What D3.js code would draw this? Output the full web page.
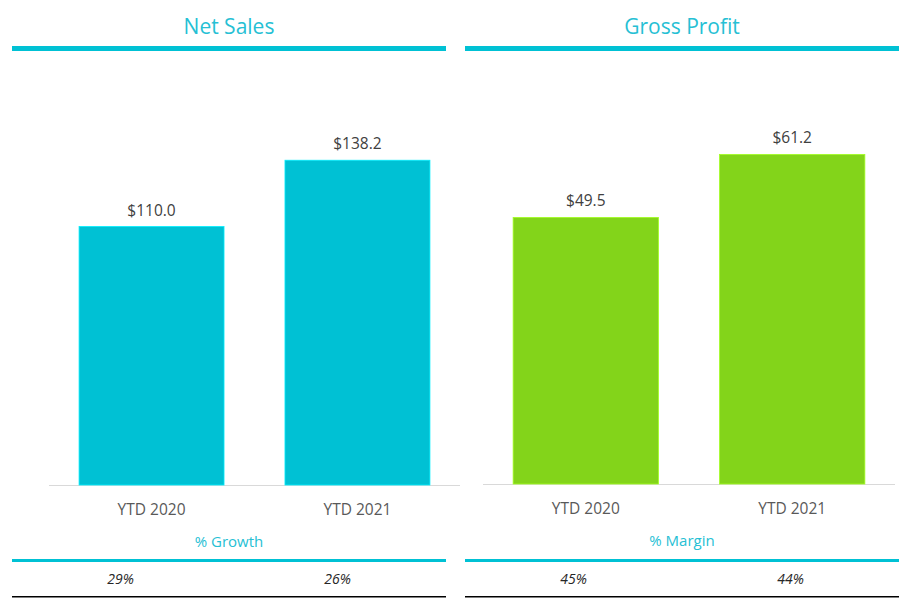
<!DOCTYPE html>
<html><head><meta charset="utf-8">
<script src="https://cdn.jsdelivr.net/npm/d3@7"></script>
<style>body{margin:0;background:#fff}svg{display:block}text{font-family:"Open Sans","Noto Sans",sans-serif}</style>
</head><body>
<svg id="c" width="901" height="600"></svg>
<script>
const categories = ["YTD 2020", "YTD 2021"];
const netSales = [110.0, 138.2];
const grossProfit = [49.5, 61.2];
const growthPct = ["29%", "26%"];
const marginPct = ["45%", "44%"];
const panelTitles = ["Net Sales", "Gross Profit"];
const subTitles = ["% Growth", "% Margin"];

const svg = d3.select("#c");
const teal = "#00c1d4", green = "#83d41a", titleCol = "#26c0d4";

const panels = [
  {title: panelTitles[0], sub: subTitles[0], vals: netSales, pct: growthPct, color: teal,
   x0: 12, x1: 446, cx: 229, base: 485, axMin: 49, axMax: 460, plotX0: 49, plotX1: 460, yMax: 160, yTop: 109},
  {title: panelTitles[1], sub: subTitles[1], vals: grossProfit, pct: marginPct, color: green,
   x0: 465, x1: 899, cx: 682, base: 484, axMin: 483, axMax: 895, plotX0: 483, plotX1: 895, yMax: 70, yTop: 107}
];

panels.forEach((p, i) => {
  const g = svg.append("g");
  g.append("text").attr("x", p.cx).attr("y", 34).attr("text-anchor", "middle")
    .attr("font-size", 21).attr("fill", titleCol).text(p.title);
  g.append("rect").attr("x", p.x0).attr("y", 46).attr("width", p.x1 - p.x0).attr("height", 5).attr("fill", teal);

  const x = d3.scaleBand().domain(categories).range([p.plotX0, p.plotX1]).paddingInner(0.296).paddingOuter(0.146);
  const y = d3.scaleLinear().domain([0, p.yMax]).range([p.base, p.yTop]);

  g.append("line").attr("x1", p.axMin).attr("x2", p.axMax).attr("y1", p.base + 0.5).attr("y2", p.base + 0.5)
    .attr("stroke", "#d9d9d9").attr("stroke-width", 1);

  g.selectAll("rect.bar").data(p.vals).join("rect").attr("class", "bar")
    .attr("x", (d, j) => x(categories[j])).attr("width", x.bandwidth())
    .attr("y", d => y(d)).attr("height", d => y(0) - y(d))
    .attr("fill", p.color).attr("stroke", d3.color(p.color).brighter(0.6)).attr("stroke-width", 0.8);

  g.selectAll("text.val").data(p.vals).join("text").attr("class", "val")
    .attr("x", (d, j) => x(categories[j]) + x.bandwidth() / 2).attr("y", d => y(d) - 11)
    .attr("text-anchor", "middle").attr("font-size", 15.5).attr("fill", "#404040")
    .text(d => "$" + d3.format(".1f")(d));

  const axis = d3.axisBottom(x).tickSize(0).tickPadding(0);
  const ax = g.append("g").attr("transform", `translate(0,${p.base})`).call(axis);
  ax.select(".domain").remove();
  ax.selectAll("text").attr("dy", null).attr("y", 30).attr("font-size", 15.5).attr("fill", "#595959")
    .attr("font-family", '"Open Sans","Noto Sans",sans-serif');

  g.append("text").attr("x", p.cx).attr("y", p.base + 62).attr("text-anchor", "middle")
    .attr("font-size", 15).attr("fill", titleCol).text(p.sub);
  g.append("rect").attr("x", p.x0).attr("y", 559).attr("width", p.x1 - p.x0).attr("height", 3).attr("fill", teal);

  const pctX = d3.scaleBand().domain(categories).range([p.x0, p.x1]);
  g.selectAll("text.pct").data(p.pct).join("text").attr("class", "pct")
    .attr("x", (d, j) => pctX(categories[j]) + pctX.bandwidth() / 2)
    .attr("y", 584).attr("text-anchor", "middle").attr("font-size", 14).attr("font-style", "italic")
    .attr("fill", "#262626").text(d => d);
  g.append("rect").attr("x", p.x0).attr("y", 596).attr("width", p.x1 - p.x0).attr("height", 1.5).attr("fill", "#000");
});
</script>
</body></html>
